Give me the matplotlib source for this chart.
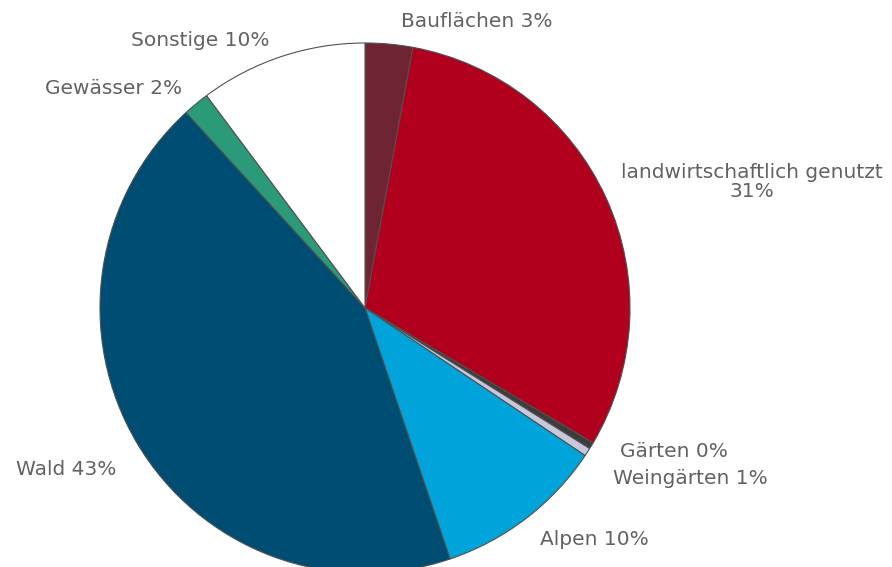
import matplotlib.pyplot as plt

# Flächennutzung (Anteile in %)
categories = ["Bauflächen", "landwirtschaftlich genutzt", "Gärten", "Weingärten",
              "Alpen", "Wald", "Gewässer", "Sonstige"]
shares = [2.9, 30.6, 0.4, 0.5, 10.4, 43.4, 1.6, 10.2]
share_labels = ["3%", "31%", "0%", "1%", "10%", "43%", "2%", "10%"]

colors = ["#6e2432", "#b0001e", "#3c3c3c", "#c8c8dc",
          "#00a3da", "#004d73", "#2a9a78", "#ffffff"]

# label positions (fraction of radius), layout only
label_pos = [(0.42, 1.08), (1.46, 0.475), (1.166, -0.543), (1.226, -0.645),
             (0.864, -0.875), (-1.128, -0.611), (-0.947, 0.83), (-0.623, 1.011)]
label_sep = [" ", "\n", " ", " ", " ", " ", " ", " "]

fig = plt.figure(figsize=(8.92, 5.67), dpi=100)
cx, cy, r = 365, 308, 265
ax = fig.add_axes([(cx - r) / 892, (567 - cy - r) / 567, 2 * r / 892, 2 * r / 567])

ax.pie(shares, colors=colors, startangle=90, counterclock=False, radius=1,
       wedgeprops=dict(edgecolor="#505050", linewidth=0.8))
ax.set_xlim(-1, 1)
ax.set_ylim(-1, 1)
ax.set_aspect("auto")
ax.axis("off")

for name, lab, sep, (x, y) in zip(categories, share_labels, label_sep, label_pos):
    ax.text(x, y, name + sep + lab, ha="center", va="center", fontsize=14.5,
            linespacing=1.0, color="#626262", fontfamily="DejaVu Sans",
            clip_on=False)

fig.savefig("out.png", dpi=100)
plt.close(fig)
